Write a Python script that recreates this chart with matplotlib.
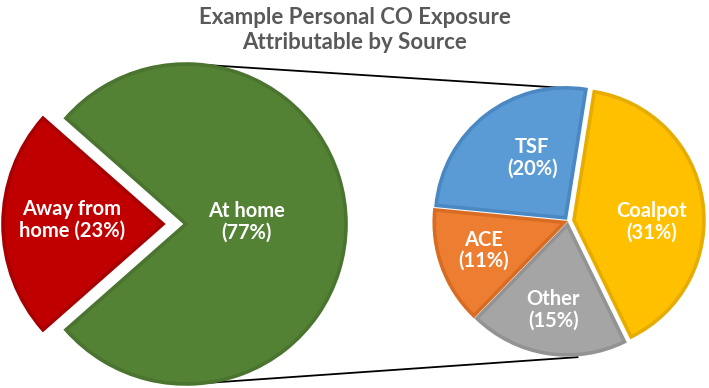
import numpy as np
import matplotlib.pyplot as plt

# =========================
# DATA
# =========================
main_labels = ["Away from\nhome", "At home"]
main_values = [23, 77]
main_colors = ["#C00000", "#548235"]
main_edges = ["#A80000", "#4A742F"]

sub_labels = ["TSF", "ACE", "Other", "Coalpot"]
sub_values = [20, 11, 15, 31]
sub_colors = ["#5B9BD5", "#ED7D31", "#A5A5A5", "#FFC000"]
sub_edges = ["#4A88C4", "#D86C22", "#939393", "#E6AC00"]

title = "Example Personal CO Exposure\nAttributable by Source"

# =========================
# LAYOUT (pixel-like data coords)
# =========================
W, H = 709, 388
main_center = (186, 164)
main_r = 160
sub_center = (568, 167)
sub_r = 130

plt.rcParams['font.family'] = ['Lato', 'DejaVu Sans']

fig = plt.figure(figsize=(W / 100, H / 100), dpi=100)
ax = fig.add_axes([0, 0, 1, 1])


def place_labels(wedges, labels, values, angles, dists):
    for w, lab, val, a, d in zip(wedges, labels, values, angles, dists):
        cx, cy = w.center
        x = cx + d * w.r * np.cos(np.deg2rad(a))
        y = cy + d * w.r * np.sin(np.deg2rad(a))
        if lab.endswith("home") and "\n" in lab:
            txt = f"{lab} ({val}%)"
        else:
            txt = f"{lab}\n({val}%)"
        ax.text(x, y, txt, ha='center', va='center', color='white',
                fontsize=14.5, fontweight='bold', linespacing=1.1, zorder=5)


# left pie (explode is in data units here)
wedges_main, _ = ax.pie(main_values, colors=main_colors, startangle=138.6,
                        counterclock=True, center=main_center, radius=main_r,
                        explode=[23, 0],
                        wedgeprops=dict(linewidth=2.6, zorder=3),
                        frame=True)
for w, ec in zip(wedges_main, main_edges):
    w.set_edgecolor(ec)
place_labels(wedges_main, main_labels, main_values, [177.5, 2], [0.57, 0.38])

# right pie
wedges_sub, _ = ax.pie(sub_values, colors=sub_colors, startangle=81,
                       counterclock=True, center=sub_center, radius=sub_r,
                       explode=[4, 4, 4, 6],
                       wedgeprops=dict(linewidth=2.6, zorder=3),
                       frame=True)
for w, ec in zip(wedges_sub, sub_edges):
    w.set_edgecolor(ec)
place_labels(wedges_sub, sub_labels, sub_values,
             [119, 199, 260.5, -1.5], [0.53, 0.66, 0.66, 0.60])

ax.set_xlim(0, W)
ax.set_ylim(0, H)
ax.set_aspect('equal')
ax.axis('off')

# connector lines
for a_main, a_sub, k in [(85, 88, 1.02), (-86, -86, 1.05)]:
    x0 = main_center[0] + main_r * np.cos(np.deg2rad(a_main))
    y0 = main_center[1] + main_r * np.sin(np.deg2rad(a_main))
    x1 = sub_center[0] + k * sub_r * np.cos(np.deg2rad(a_sub))
    y1 = sub_center[1] + k * sub_r * np.sin(np.deg2rad(a_sub))
    ax.plot([x0, x1], [y0, y1], color='black', linewidth=1.3, zorder=2)

ax.text(W / 2, 358, title, ha='center', va='center', color='#595959',
        fontsize=16, fontweight='bold', linespacing=1.25)

fig.savefig("out.png", dpi=100)
